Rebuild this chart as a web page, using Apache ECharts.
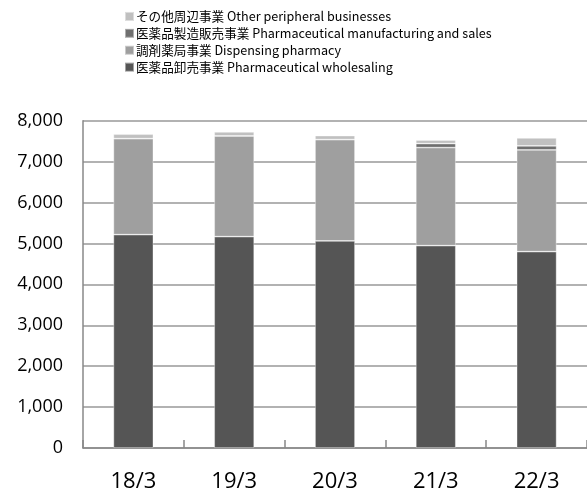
<!DOCTYPE html>
<html>
<head>
<meta charset="utf-8">
<script src="https://cdn.jsdelivr.net/npm/echarts@6/dist/echarts.min.js"></script>
<style>html,body{margin:0;padding:0;background:#fff;}#c{width:587px;height:495px;}</style>
</head>
<body>
<div id="c"></div>
<script>
const categories = ['18/3', '19/3', '20/3', '21/3', '22/3'];
const wholesale = [5215, 5166, 5061, 4946, 4800];
const dispensing = [2347, 2462, 2477, 2397, 2486];
const manufacturing = [0, 0, 0, 98, 98];
const other = [108, 98, 98, 82, 195];
const yTicks = [0, 1000, 2000, 3000, 4000, 5000, 6000, 7000, 8000];
const names = {
  wholesale: '医薬品卸売事業 Pharmaceutical wholesaling',
  dispensing: '調剤薬局事業 Dispensing pharmacy',
  manufacturing: '医薬品製造販売事業 Pharmaceutical manufacturing and sales',
  other: 'その他周辺事業 Other peripheral businesses'
};

const chart = echarts.init(document.getElementById('c'));
const font = '"Open Sans", "Noto Sans CJK JP", sans-serif';
function bar(name, data, color) {
  return {
    name: name, type: 'bar', stack: 'total', data: data, barWidth: 40,
    itemStyle: { color: color, borderColor: 'rgba(255,255,255,0.45)', borderWidth: 0.8 }
  };
}
chart.setOption({
  animation: false,
  legend: {
    orient: 'vertical', left: 119, top: 3,
    itemWidth: 9, itemHeight: 9, itemGap: 0, icon: 'rect',
    textStyle: { fontFamily: '"Noto Sans CJK JP", sans-serif', fontSize: 12.6, color: '#000', lineHeight: 16.9, padding: [0,0,0,-3]},
    data: [names.other, names.manufacturing, names.dispensing, names.wholesale]
  },
  grid: { left: 83, right: -1, top: 120.7, bottom: 47, containLabel: false },
  xAxis: {
    type: 'category', data: categories,
    axisLine: { lineStyle: { color: '#888', width: 1.5 } },
    axisTick: { show: true, inside: true, length: 8, interval: 0, lineStyle: { color: '#888', width: 1.5 } },
    axisLabel: { fontFamily: font, fontSize: 22, color: '#000', margin: 23 }
  },
  yAxis: {
    type: 'value', min: yTicks[0], max: yTicks[yTicks.length - 1], interval: 1000,
    axisLine: { show: true, lineStyle: { color: '#888', width: 1.5 } },
    axisTick: { show: false },
    splitLine: { lineStyle: { color: '#999', width: 1.5 } },
    axisLabel: { fontFamily: font, fontSize: 18, color: '#000', margin: 20,
      formatter: v => v.toLocaleString('en-US') }
  },
  series: [
    bar(names.wholesale, wholesale, '#555555'),
    bar(names.dispensing, dispensing, '#9f9f9f'),
    bar(names.manufacturing, manufacturing, '#6f6f6f'),
    bar(names.other, other, '#c0c0c0')
  ]
});
</script>
</body>
</html>
